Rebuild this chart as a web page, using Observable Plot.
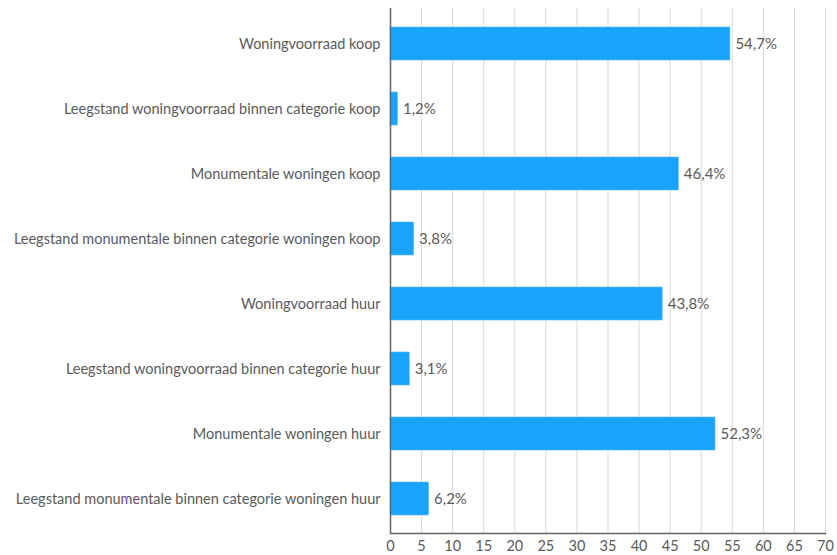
<!DOCTYPE html>
<html><head><meta charset="utf-8">
<script src="https://cdn.jsdelivr.net/npm/d3@7"></script>
<script src="https://cdn.jsdelivr.net/npm/@observablehq/plot@0.6"></script>
<style>
body{margin:0;background:#fff;}
#chart{width:837px;height:555px;overflow:hidden;}
</style>
</head><body><div id="chart"></div>
<script>
const categories = [
  "Woningvoorraad koop",
  "Leegstand woningvoorraad binnen categorie koop",
  "Monumentale woningen koop",
  "Leegstand monumentale binnen categorie woningen koop",
  "Woningvoorraad huur",
  "Leegstand woningvoorraad binnen categorie huur",
  "Monumentale woningen huur",
  "Leegstand monumentale binnen categorie woningen huur"
];
const values = [54.7, 1.2, 46.4, 3.8, 43.8, 3.1, 52.3, 6.2];
const xTicks = [0,5,10,15,20,25,30,35,40,45,50,55,60,65,70];

const data = categories.map((c,i)=>({cat:c, val:values[i]}));
const fmt = v => v.toFixed(1).replace(".", ",") + "%";

const chart = Plot.plot({
  width: 837,
  height: 555,
  marginLeft: 390,
  marginRight: 12,
  marginTop: 8,
  marginBottom: 22,
  style: {fontFamily: "Lato, sans-serif", fontSize: "14.5px", color: "#5a5a5a", background: "#fff"},
  x: {domain: [0, 70], ticks: xTicks, label: null},
  y: {domain: categories, paddingInner: 0.5, paddingOuter: 0.25, label: null},
  marks: [
    Plot.gridX(xTicks, {stroke: "#d9d9d9", strokeOpacity: 1}),
    Plot.barX(data, {y: "cat", x: "val", fill: "#1aa3fb", stroke: "#5cbcfb", strokeWidth: 0.6}),
    Plot.text(data, {y: "cat", x: "val", text: d => fmt(d.val), textAnchor: "start", dx: 5, fill: "#5a5a5a", fontSize: 15}),
    Plot.ruleX([0], {stroke: "#666", strokeWidth: 1.5}),
    Plot.frame({anchor: "bottom", stroke: "#666", strokeWidth: 1.5}),
    Plot.axisX({ticks: xTicks, tickSize: 0, tickPadding: 7, fill: "#5a5a5a", fontSize: 14.5, label: null}),
    Plot.axisY({tickSize: 0, tickPadding: 10, fill: "#5a5a5a", fontSize: 14.5, label: null})
  ]
});
document.getElementById("chart").appendChild(chart);
</script>
</body></html>
